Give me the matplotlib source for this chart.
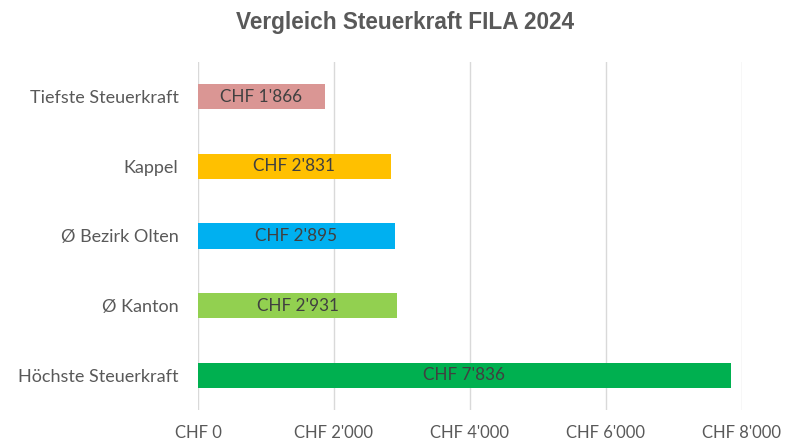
import matplotlib.pyplot as plt

# Data (top to bottom)
categories = ['Tiefste Steuerkraft', 'Kappel', 'Ø Bezirk Olten', 'Ø Kanton', 'Höchste Steuerkraft']
values = [1866, 2831, 2895, 2931, 7836]
colors = ['#DA9694', '#FFC000', '#00B0F0', '#92D050', '#00B050']
xticks = [0, 2000, 4000, 6000, 8000]


def chf(v):
    return "CHF " + f"{v:,}".replace(",", "'")


plt.rcParams['font.family'] = ['Lato', 'DejaVu Sans']

fig = plt.figure(figsize=(7.87, 4.43), dpi=100)
ax = fig.add_axes([198 / 787, 1 - 410 / 443, (742 - 198) / 787, (410 - 62) / 443])

ypos = list(range(len(categories)))[::-1]
ax.barh(ypos, values, height=0.36, color=colors, zorder=3)

for y, v in zip(ypos, values):
    ax.text(v / 2, y, chf(v), ha='center', va='center', fontsize=12.3, color='#404040', zorder=4)

ax.set_xlim(0, 8000)
ax.set_ylim(-0.5, 4.5)
ax.set_yticks(ypos)
ax.set_yticklabels(categories, fontsize=13, color='#595959')
ax.set_xticks(xticks)
ax.set_xticklabels([chf(t) for t in xticks], fontsize=12, color='#595959')
ax.tick_params(length=0)
ax.tick_params(axis='x', pad=11)
ax.tick_params(axis='y', pad=14)
ax.grid(axis='x', color='#D9D9D9', linewidth=1, zorder=0)
for s in ax.spines.values():
    s.set_visible(False)

fig.text(405 / 787, 1 - 22 / 443, 'Vergleich Steuerkraft FILA 2024', ha='center', va='center',
         fontsize=16.3, fontweight='bold', color='#595959', family='Liberation Sans')

fig.savefig('out.png', dpi=100)
